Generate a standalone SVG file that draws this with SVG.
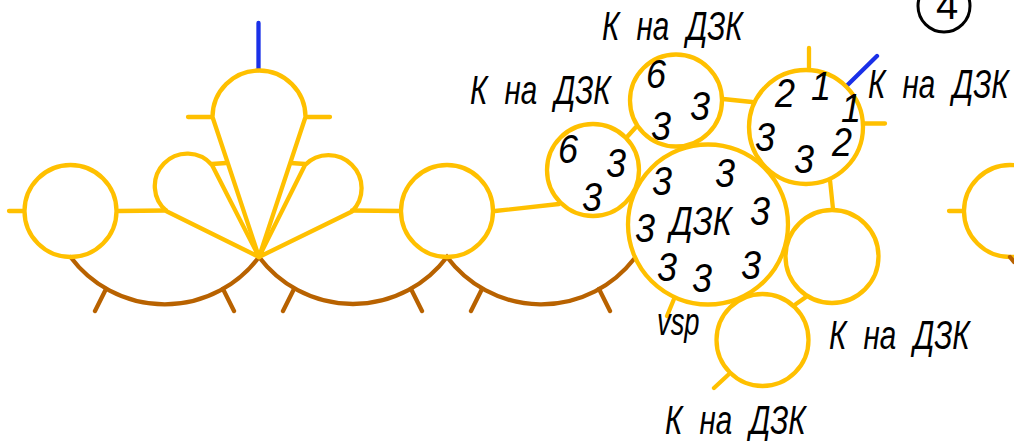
<svg xmlns="http://www.w3.org/2000/svg" width="1014" height="441" viewBox="0 0 1014 441">
<style>
.y{fill:none;stroke:#ffc000;stroke-width:4.3;stroke-linecap:round;stroke-linejoin:round}
.b{fill:none;stroke:#b86200;stroke-width:4.3;stroke-linecap:round}
.u{fill:none;stroke:#1a30e8;stroke-width:4.3;stroke-linecap:round}
.k{fill:none;stroke:#000;stroke-width:3}
text{font-family:"Liberation Sans",Arial,sans-serif;font-style:italic;fill:#000;font-size:40px}
.l{word-spacing:12px}
</style>
<rect width="1014" height="441" fill="#fff"/>
<g id="connectors">
<path class="b" d="M70.500 257A117.500 117.500 0 0 0 259 257A117.500 117.500 0 0 0 447 257A117.500 117.500 0 0 0 634 259"/>
<path class="b" d="M106 289L95 311M223 289L234 311M294 289L283 311M411 289L422 311M482 289L471 311M599 289L610 311"/>
<path class="y" d="M9 211H23M118 211L166 210.500M352 210.500L400 211M495 211L559 204M627 137L636 127M723 99L752 102M830 180L833 209M796 304L806 297M714 388L728 375M674 299L667 316M809 48V69M864 123.500H885M949 211H963M188 117H212M306 117H330M212 164L226 163M291 163L305 164"/>
<path class="u" d="M258.500 23V70M846.500 86L877 56"/>
</g>
<g id="node-a"><circle class="y" cx="70.500" cy="211" r="46"/></g>
<g id="node-b"><circle class="y" cx="447" cy="211" r="46"/></g>
<g id="node-top-petal"><path class="y" d="M259 257L212.500 117A46.500 46.500 0 1 1 305.500 117Z"/></g>
<g id="node-left-petal"><path class="y" d="M259 257L212 165A32.500 32.500 0 1 0 167 211.500Z"/></g>
<g id="node-right-petal"><path class="y" d="M259 257L305 165A32.500 32.500 0 1 1 352 211.500Z"/></g>
<g id="node-c"><circle class="y" cx="593" cy="170" r="46"/>
<text transform="translate(558 163) scale(.9 1)">6</text><text transform="translate(606 177) scale(.9 1)">3</text><text transform="translate(582 210.500) scale(.9 1)">3</text></g>
<g id="node-d"><circle class="y" cx="676" cy="100.500" r="46"/>
<text transform="translate(646 88) scale(.9 1)">6</text><text transform="translate(690 120) scale(.9 1)">3</text><text transform="translate(651 140) scale(.9 1)">3</text></g>
<g id="node-e"><circle class="y" cx="806" cy="127" r="57"/>
<text transform="translate(775 107) scale(.9 1)">2</text><text transform="translate(811 100) scale(.9 1)">1</text><text transform="translate(841 122) scale(.9 1)">1</text><text transform="translate(832 156) scale(.9 1)">2</text><text transform="translate(755 151) scale(.9 1)">3</text><text transform="translate(794 173) scale(.9 1)">3</text></g>
<g id="node-f"><circle class="y" cx="708" cy="224.500" r="80"/>
<text transform="translate(652 195) scale(.9 1)">3</text><text transform="translate(715 187) scale(.9 1)">3</text><text transform="translate(750 225) scale(.9 1)">3</text><text transform="translate(635 242) scale(.9 1)">3</text><text transform="translate(657 281) scale(.9 1)">3</text><text transform="translate(692 292) scale(.9 1)">3</text><text transform="translate(741 279) scale(.9 1)">3</text>
<text transform="translate(670 235) scale(.81 1)">ДЗК</text></g>
<g id="node-g"><circle class="y" cx="832" cy="256.500" r="46.500"/></g>
<g id="node-h"><circle class="y" cx="762.500" cy="340" r="46"/></g>
<g id="node-i"><circle class="y" cx="1010" cy="211" r="46"/><path class="b" d="M1010 257L1014 262"/></g>
<g id="label-4"><circle class="k" cx="944" cy="6" r="26"/><text x="936" y="19" style="font-style:normal">4</text></g>
<g id="labels">
<text class="l" transform="translate(470 104) scale(.74 1)">К на ДЗК</text>
<text class="l" transform="translate(602 39.500) scale(.74 1)">К на ДЗК</text>
<text class="l" transform="translate(868 98) scale(.74 1)">К на ДЗК</text>
<text class="l" transform="translate(829 349) scale(.74 1)">К на ДЗК</text>
<text class="l" transform="translate(665 433.500) scale(.74 1)">К на ДЗК</text>
<text transform="translate(657 335) scale(.72 1)" style="font-size:38px">vsp</text>
</g>
</svg>
